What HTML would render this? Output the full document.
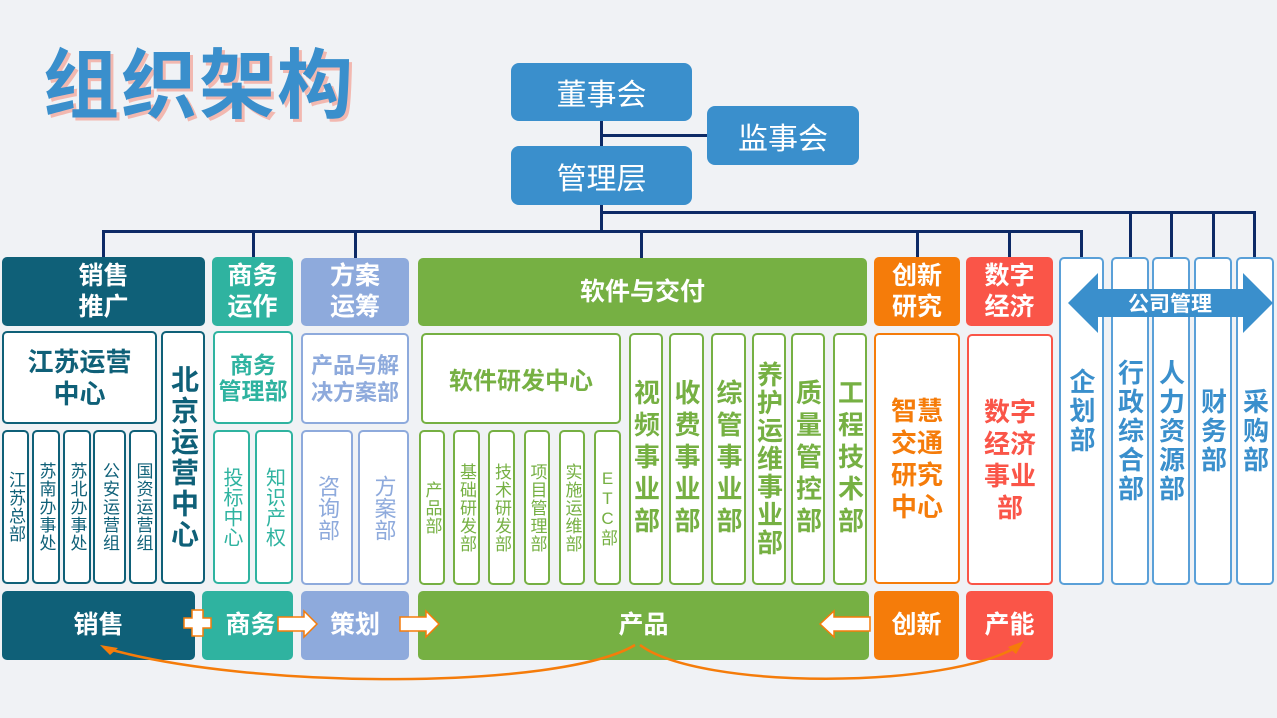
<!DOCTYPE html>
<html><head><meta charset="utf-8"><style>
*{margin:0;padding:0;box-sizing:border-box}
body{width:1277px;height:718px;background:#f0f2f5;position:relative;overflow:hidden;font-family:"Liberation Sans","Noto Sans CJK SC",sans-serif}
.b{position:absolute;display:flex;align-items:center;justify-content:center;text-align:center;border-radius:5px}
.h{color:#fff;font-weight:bold;font-size:25px;line-height:31px}
.w{background:#fff;border:2px solid}
.v{writing-mode:vertical-rl;text-orientation:upright}
.s{font-size:17px;letter-spacing:1px}
.t{font-size:26px;font-weight:bold;letter-spacing:6px}
.ln{position:absolute;background:#0d2a66}
</style></head><body>
<div style="position:absolute;left:43px;top:24px;font-size:76px;font-weight:bold;color:#3a8fcc;text-shadow:3px 3px 0 #f2b8b0;letter-spacing:2px">组织架构</div>

<div class="ln" style="left:600px;top:120px;width:3px;height:95px"></div>
<div class="ln" style="left:600px;top:134px;width:110px;height:3px"></div>
<div class="ln" style="left:600px;top:211px;width:656px;height:3px"></div>
<div class="ln" style="left:600px;top:211px;width:3px;height:22px"></div>
<div class="ln" style="left:102px;top:230px;width:981px;height:3px"></div>
<div class="ln" style="left:102px;top:230px;width:3px;height:28px"></div>
<div class="ln" style="left:252px;top:230px;width:3px;height:28px"></div>
<div class="ln" style="left:354px;top:230px;width:3px;height:28px"></div>
<div class="ln" style="left:640px;top:230px;width:3px;height:28px"></div>
<div class="ln" style="left:916px;top:230px;width:3px;height:28px"></div>
<div class="ln" style="left:1008px;top:230px;width:3px;height:28px"></div>
<div class="ln" style="left:1080px;top:230px;width:3px;height:28px"></div>
<div class="ln" style="left:1129px;top:211px;width:3px;height:47px"></div>
<div class="ln" style="left:1170px;top:211px;width:3px;height:47px"></div>
<div class="ln" style="left:1212px;top:211px;width:3px;height:47px"></div>
<div class="ln" style="left:1253px;top:211px;width:3px;height:47px"></div>

<div class="b" style="left:511px;top:63px;width:181px;height:58px;background:#3a8fcc;color:#fff;font-size:30px;border-radius:8px">董事会</div>
<div class="b" style="left:707px;top:106px;width:152px;height:59px;background:#3a8fcc;color:#fff;font-size:30px;border-radius:8px">监事会</div>
<div class="b" style="left:511px;top:146px;width:181px;height:59px;background:#3a8fcc;color:#fff;font-size:30px;border-radius:8px">管理层</div>

<div class="b h" style="left:2px;top:257px;width:203px;height:69px;background:#0f6078">销售<br>推广</div>
<div class="b h" style="left:212px;top:257px;width:81px;height:69px;background:#2fb3a0">商务<br>运作</div>
<div class="b h" style="left:301px;top:258px;width:108px;height:68px;background:#8eaadc">方案<br>运筹</div>
<div class="b h" style="left:418px;top:258px;width:449px;height:68px;background:#76b043">软件与交付</div>
<div class="b h" style="left:874px;top:257px;width:86px;height:69px;background:#f57c0a">创新<br>研究</div>
<div class="b h" style="left:966px;top:257px;width:87px;height:69px;background:#fa5548">数字<br>经济</div>

<div class="b w" style="left:2px;top:331px;width:155px;height:93px;border-color:#0f6078;color:#0f6078;font-size:26px;font-weight:bold;line-height:32px">江苏运营<br>中心</div>
<div class="b w v t" style="left:161px;top:331px;width:44px;height:253px;border-color:#0f6078;color:#0f6078;font-size:28px;letter-spacing:3px">北京运营中心</div>
<div class="b w v s" style="left:2px;top:430px;width:27px;height:154px;border-color:#0f6078;color:#0f6078">江苏总部</div>
<div class="b w v s" style="left:32px;top:430px;width:28px;height:154px;border-color:#0f6078;color:#0f6078">苏南办事处</div>
<div class="b w v s" style="left:63px;top:430px;width:28px;height:154px;border-color:#0f6078;color:#0f6078">苏北办事处</div>
<div class="b w v s" style="left:93px;top:430px;width:33px;height:154px;border-color:#0f6078;color:#0f6078">公安运营组</div>
<div class="b w v s" style="left:129px;top:430px;width:28px;height:154px;border-color:#0f6078;color:#0f6078">国资运营组</div>

<div class="b w" style="left:213px;top:331px;width:80px;height:93px;border-color:#2fb3a0;color:#2fb3a0;font-size:23px;font-weight:bold;line-height:26px">商务<br>管理部</div>
<div class="b w v" style="left:213px;top:430px;width:37px;height:154px;border-color:#2fb3a0;color:#2fb3a0;font-size:20px">投标中心</div>
<div class="b w v" style="left:255px;top:430px;width:38px;height:154px;border-color:#2fb3a0;color:#2fb3a0;font-size:20px">知识产权</div>

<div class="b w" style="left:301px;top:333px;width:108px;height:91px;border-color:#8eaadc;color:#8eaadc;font-size:22px;font-weight:bold;line-height:27px">产品与解<br>决方案部</div>
<div class="b w v" style="left:301px;top:430px;width:52px;height:155px;border-color:#8eaadc;color:#8eaadc;font-size:22px">咨询部</div>
<div class="b w v" style="left:358px;top:430px;width:51px;height:155px;border-color:#8eaadc;color:#8eaadc;font-size:22px">方案部</div>

<div class="b w" style="left:421px;top:333px;width:200px;height:91px;border-color:#76b043;color:#76b043;font-size:24px;font-weight:bold">软件研发中心</div>
<div class="b w v s" style="left:419px;top:430px;width:26px;height:155px;border-color:#76b043;color:#76b043">产品部</div>
<div class="b w v s" style="left:453px;top:430px;width:27px;height:155px;border-color:#76b043;color:#76b043">基础研发部</div>
<div class="b w v s" style="left:488px;top:430px;width:27px;height:155px;border-color:#76b043;color:#76b043">技术研发部</div>
<div class="b w v s" style="left:524px;top:430px;width:26px;height:155px;border-color:#76b043;color:#76b043">项目管理部</div>
<div class="b w v s" style="left:559px;top:430px;width:26px;height:155px;border-color:#76b043;color:#76b043">实施运维部</div>
<div class="b w v s" style="left:594px;top:430px;width:27px;height:155px;border-color:#76b043;color:#76b043">ETC部</div>
<div class="b w v t" style="left:629px;top:333px;width:34px;height:252px;border-color:#76b043;color:#76b043">视频事业部</div>
<div class="b w v t" style="left:669px;top:333px;width:35px;height:252px;border-color:#76b043;color:#76b043">收费事业部</div>
<div class="b w v t" style="left:711px;top:333px;width:35px;height:252px;border-color:#76b043;color:#76b043">综管事业部</div>
<div class="b w v t" style="left:752px;top:333px;width:34px;height:252px;border-color:#76b043;color:#76b043;letter-spacing:2px">养护运维事业部</div>
<div class="b w v t" style="left:791px;top:333px;width:34px;height:252px;border-color:#76b043;color:#76b043">质量管控部</div>
<div class="b w v t" style="left:833px;top:333px;width:34px;height:252px;border-color:#76b043;color:#76b043">工程技术部</div>

<div class="b w" style="left:874px;top:333px;width:86px;height:251px;border-color:#f57c0a;color:#f57c0a;font-size:26px;font-weight:bold;line-height:32px">智慧<br>交通<br>研究<br>中心</div>
<div class="b w" style="left:967px;top:334px;width:86px;height:251px;border-color:#fa5548;color:#fa5548;font-size:26px;font-weight:bold;line-height:32px">数字<br>经济<br>事业<br>部</div>

<div class="b w v" style="left:1059px;top:257px;width:45px;height:328px;border-color:#5aa0d8;color:#3a8fcc;font-size:26px;font-weight:bold;padding-bottom:20px;letter-spacing:3px">企划部</div>
<div class="b w v" style="left:1111px;top:257px;width:38px;height:328px;border-color:#5aa0d8;color:#3a8fcc;font-size:26px;font-weight:bold;padding-top:20px;letter-spacing:3px">行政综合部</div>
<div class="b w v" style="left:1152px;top:257px;width:38px;height:328px;border-color:#5aa0d8;color:#3a8fcc;font-size:26px;font-weight:bold;padding-top:20px;letter-spacing:3px">人力资源部</div>
<div class="b w v" style="left:1194px;top:257px;width:38px;height:328px;border-color:#5aa0d8;color:#3a8fcc;font-size:26px;font-weight:bold;padding-top:20px;letter-spacing:3px">财务部</div>
<div class="b w v" style="left:1236px;top:257px;width:38px;height:328px;border-color:#5aa0d8;color:#3a8fcc;font-size:26px;font-weight:bold;padding-top:20px;letter-spacing:3px">采购部</div>
<svg style="position:absolute;left:0;top:0" width="1277" height="718">
<polygon points="1068,303 1098,273 1098,289 1243,289 1243,273 1273,303 1243,333 1243,317 1098,317 1098,333" fill="#3a8fcc"/>
<text x="1170" y="311" fill="#fff" font-size="21" font-weight="bold" text-anchor="middle" font-family="Liberation Sans, Noto Sans CJK SC, sans-serif">公司管理</text>
</svg>

<div class="b h" style="left:2px;top:591px;width:193px;height:69px;background:#0f6078">销售</div>
<div class="b h" style="left:202px;top:591px;width:91px;height:69px;background:#2fb3a0;padding-left:6px">商务</div>
<div class="b h" style="left:301px;top:591px;width:108px;height:69px;background:#8eaadc">策划</div>
<div class="b h" style="left:418px;top:591px;width:451px;height:69px;background:#76b043">产品</div>
<div class="b h" style="left:874px;top:591px;width:85px;height:69px;background:#f57c0a">创新</div>
<div class="b h" style="left:966px;top:591px;width:87px;height:69px;background:#fa5548">产能</div>
<svg style="position:absolute;left:0;top:0" width="1277" height="718">
<g fill="#fff" stroke="#f57c0a" stroke-width="1.5">
<polygon points="192,618 192,610 203,610 203,618 211,618 211,628 203,628 203,636 192,636 192,628 184,628 184,618"/>
<polygon points="278,617 304,617 304,611 317,624 304,637 304,631 278,631"/>
<polygon points="400,617 426,617 426,611 439,624 426,637 426,631 400,631"/>
<polygon points="870,617 834,617 834,611 820,624 834,637 834,631 870,631"/>
</g>
<g fill="none" stroke="#f57c0a" stroke-width="2.5">
<path d="M635,645 C560,690 250,690 105,648"/>
<path d="M640,645 C700,690 950,690 1020,645"/>
</g>
<polygon points="100,645 118,648 110,655" fill="#f57c0a"/>
<polygon points="1024,641 1008,647 1016,654" fill="#f57c0a"/>
</svg>
</body></html>
